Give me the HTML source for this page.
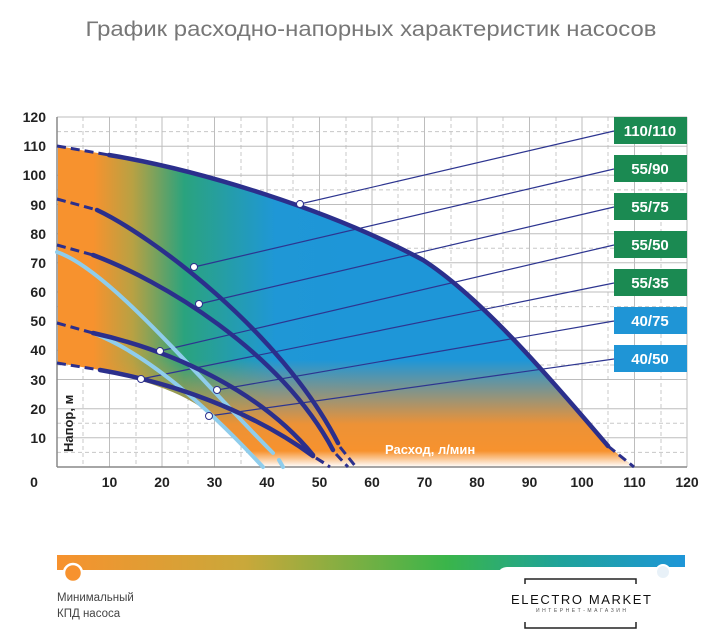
<!DOCTYPE html>
<html><head><meta charset="utf-8"><style>
html,body{margin:0;padding:0;background:#fff;}
svg{display:block;font-family:"Liberation Sans","DejaVu Sans",sans-serif;}
</style></head><body>
<svg width="720" height="640" viewBox="0 0 720 640" xmlns="http://www.w3.org/2000/svg">
<defs>
<linearGradient id="hg" x1="57" y1="0" x2="360" y2="0" gradientUnits="userSpaceOnUse">
<stop offset="0" stop-color="#f7922e"/><stop offset="0.12" stop-color="#f7922e"/>
<stop offset="0.25" stop-color="#b8a143"/><stop offset="0.42" stop-color="#2aa37e"/>
<stop offset="0.72" stop-color="#1f97d6"/><stop offset="1" stop-color="#1e96d8"/>
</linearGradient>
<linearGradient id="vg" x1="0" y1="360" x2="0" y2="467" gradientUnits="userSpaceOnUse">
<stop offset="0" stop-color="#f7922e" stop-opacity="0"/>
<stop offset="0.6" stop-color="#f7922e" stop-opacity="0.95"/>
<stop offset="0.85" stop-color="#f7922e" stop-opacity="1"/>
<stop offset="1" stop-color="#ffffff" stop-opacity="1"/>
</linearGradient>
<linearGradient id="bar" x1="57" y1="0" x2="685" y2="0" gradientUnits="userSpaceOnUse">
<stop offset="0" stop-color="#f7922e"/><stop offset="0.3" stop-color="#c9a83a"/>
<stop offset="0.62" stop-color="#3ab54a"/><stop offset="0.8" stop-color="#1fa39a"/>
<stop offset="1" stop-color="#1e96d8"/>
</linearGradient>
</defs>

<text x="371" y="36" font-size="21" fill="#777" text-anchor="middle" textLength="571" lengthAdjust="spacingAndGlyphs">График расходно-напорных характеристик насосов</text>

<g stroke="#c8c8c8" stroke-width="1" stroke-dasharray="4,3">
<line x1="57" y1="131.6" x2="687" y2="131.6"/><line x1="57" y1="189.9" x2="687" y2="189.9"/>
<line x1="57" y1="248.3" x2="687" y2="248.3"/><line x1="57" y1="306.6" x2="687" y2="306.6"/>
<line x1="57" y1="365" x2="687" y2="365"/><line x1="57" y1="423.3" x2="687" y2="423.3"/>
<line x1="57" y1="452.4" x2="687" y2="452.4"/>
<line x1="83" y1="117" x2="83" y2="467"/><line x1="136" y1="117" x2="136" y2="467"/>
<line x1="188" y1="117" x2="188" y2="467"/><line x1="241" y1="117" x2="241" y2="467"/>
<line x1="293" y1="117" x2="293" y2="467"/><line x1="346" y1="117" x2="346" y2="467"/>
<line x1="398" y1="117" x2="398" y2="467"/><line x1="451" y1="117" x2="451" y2="467"/>
<line x1="503" y1="117" x2="503" y2="467"/><line x1="556" y1="117" x2="556" y2="467"/>
<line x1="608" y1="117" x2="608" y2="467"/><line x1="661" y1="117" x2="661" y2="467"/>
</g>
<g stroke="#bdbdbd" stroke-width="1">
<line x1="57" y1="117" x2="687" y2="117"/><line x1="57" y1="146.2" x2="687" y2="146.2"/>
<line x1="57" y1="175.3" x2="687" y2="175.3"/><line x1="57" y1="204.5" x2="687" y2="204.5"/>
<line x1="57" y1="233.7" x2="687" y2="233.7"/><line x1="57" y1="262.8" x2="687" y2="262.8"/>
<line x1="57" y1="292" x2="687" y2="292"/><line x1="57" y1="321.2" x2="687" y2="321.2"/>
<line x1="57" y1="350.3" x2="687" y2="350.3"/><line x1="57" y1="379.5" x2="687" y2="379.5"/>
<line x1="57" y1="408.7" x2="687" y2="408.7"/><line x1="57" y1="437.8" x2="687" y2="437.8"/>
<line x1="109.5" y1="117" x2="109.5" y2="467"/><line x1="162" y1="117" x2="162" y2="467"/>
<line x1="214.5" y1="117" x2="214.5" y2="467"/><line x1="267" y1="117" x2="267" y2="467"/>
<line x1="319.5" y1="117" x2="319.5" y2="467"/><line x1="372" y1="117" x2="372" y2="467"/>
<line x1="424.5" y1="117" x2="424.5" y2="467"/><line x1="477" y1="117" x2="477" y2="467"/>
<line x1="529.5" y1="117" x2="529.5" y2="467"/><line x1="582" y1="117" x2="582" y2="467"/>
<line x1="634.5" y1="117" x2="634.5" y2="467"/><line x1="687" y1="117" x2="687" y2="467"/>
</g>

<path d="M58,146 L109,155 C200,170 330,210 423,260 C485,300 560,390 608,446 L634,467 L263,467 C245,450 225,430 205,410 C180,392 150,382 100,370 L58,363 Z" fill="url(#hg)"/>
<path d="M58,146 L109,155 C200,170 330,210 423,260 C485,300 560,390 608,446 L634,467 L263,467 C245,450 225,430 205,410 C180,392 150,382 100,370 L58,363 Z" fill="url(#vg)"/>

<g stroke="#888" stroke-width="1.5"><line x1="57" y1="117" x2="57" y2="467"/><line x1="57" y1="467" x2="687" y2="467"/></g>

<g stroke="#2d3590" stroke-width="1.2" fill="none">
<line x1="300" y1="204" x2="614" y2="131"/>
<line x1="194" y1="267" x2="614" y2="169"/>
<line x1="199" y1="304" x2="614" y2="207"/>
<line x1="160" y1="351" x2="614" y2="245"/>
<line x1="141" y1="379" x2="614" y2="283"/>
<line x1="217" y1="390" x2="614" y2="321"/>
<line x1="209" y1="416" x2="614" y2="359"/>
</g>

<g stroke="#8fcdec" stroke-width="4" fill="none" stroke-linecap="round">
<path d="M57,252 C110,270 200,380 273,453"/>
<line x1="279" y1="460" x2="283" y2="467"/>
<path d="M93,333 C150,355 210,410 263,467"/>
</g>

<g stroke="#2b2f8c" stroke-width="4.5" fill="none" stroke-linecap="round">
<path d="M109,155 C200,170 330,210 423,260 C485,300 560,390 608,446"/>
<path d="M97,210 C150,235 280,330 338,443"/>
<path d="M93,255 C160,280 280,350 333,450"/>
<path d="M93,333 C170,350 260,390 313,455"/>
<path d="M100,370 C170,382 250,410 313,456"/>
</g>
<g stroke="#2b2f8c" stroke-width="3" fill="none" stroke-dasharray="9,5">
<line x1="57" y1="146" x2="109" y2="155"/>
<line x1="608" y1="446" x2="634" y2="467"/>
<line x1="57" y1="199" x2="97" y2="210"/>
<line x1="340" y1="447" x2="356" y2="467"/>
<line x1="57" y1="245" x2="93" y2="255"/>
<line x1="336" y1="454" x2="348" y2="467"/>
<line x1="57" y1="323" x2="93" y2="333"/>
<line x1="316" y1="458" x2="330" y2="467"/>
<line x1="57" y1="363" x2="100" y2="370"/>
<line x1="316" y1="458" x2="326" y2="464"/>
</g>

<g fill="#fff" stroke="#2b2f8c" stroke-width="1">
<circle cx="300" cy="204" r="3.5"/><circle cx="194" cy="267" r="3.5"/>
<circle cx="199" cy="304" r="3.5"/><circle cx="160" cy="351" r="3.5"/>
<circle cx="141" cy="379" r="3.5"/><circle cx="217" cy="390" r="3.5"/>
<circle cx="209" cy="416" r="3.5"/>
</g>

<g font-weight="bold" font-size="15" fill="#fff" text-anchor="middle">
<rect x="614" y="117" width="73" height="27" fill="#1b8a52"/><text x="650" y="136">110/110</text>
<rect x="614" y="155" width="73" height="27" fill="#1b8a52"/><text x="650" y="174">55/90</text>
<rect x="614" y="193" width="73" height="27" fill="#1b8a52"/><text x="650" y="212">55/75</text>
<rect x="614" y="231" width="73" height="27" fill="#1b8a52"/><text x="650" y="250">55/50</text>
<rect x="614" y="269" width="73" height="27" fill="#1b8a52"/><text x="650" y="288">55/35</text>
<rect x="614" y="307" width="73" height="27" fill="#1f95d6"/><text x="650" y="326">40/75</text>
<rect x="614" y="345" width="73" height="27" fill="#1f95d6"/><text x="650" y="364">40/50</text>
</g>

<g font-size="14" font-weight="bold" fill="#222" text-anchor="end">
<text x="46" y="122">120</text><text x="46" y="151">110</text><text x="46" y="180">100</text>
<text x="46" y="210">90</text><text x="46" y="239">80</text><text x="46" y="268">70</text>
<text x="46" y="297">60</text><text x="46" y="326">50</text><text x="46" y="355">40</text>
<text x="46" y="385">30</text><text x="46" y="414">20</text><text x="46" y="443">10</text>
</g>
<g font-size="14" font-weight="bold" fill="#222" text-anchor="middle">
<text x="34" y="487">0</text><text x="109.5" y="487">10</text><text x="162" y="487">20</text>
<text x="214.5" y="487">30</text><text x="267" y="487">40</text><text x="319.5" y="487">50</text>
<text x="372" y="487">60</text><text x="424.5" y="487">70</text><text x="477" y="487">80</text>
<text x="529.5" y="487">90</text><text x="582" y="487">100</text><text x="634.5" y="487">110</text>
<text x="687" y="487">120</text>
</g>
<text transform="translate(73,452) rotate(-90)" font-size="13" font-weight="bold" fill="#222">Напор, м</text>
<text x="385" y="454" font-size="13" font-weight="bold" fill="#fff">Расход, л/мин</text>

<rect x="57" y="555" width="628" height="15" fill="url(#bar)"/>
<rect x="497" y="567" width="200" height="73" rx="10" fill="#fff"/>
<circle cx="663" cy="572" r="7" fill="#e8f1f8" stroke="#fff" stroke-width="2"/>
<circle cx="73" cy="573" r="9" fill="#f7922e" stroke="#fff" stroke-width="2.5"/>
<text x="57" y="601" font-size="11.5" fill="#444">Минимальный</text>
<text x="57" y="617" font-size="11.5" fill="#444">КПД насоса</text>
<path d="M525,584 V579 H636 V584 M525,622 V628 H636 V622" stroke="#222" stroke-width="1.5" fill="none"/>
<text x="581" y="604" font-size="13" fill="#111" text-anchor="middle" textLength="140" lengthAdjust="spacing">ELECTRO MARKET</text>
<text x="581" y="612" font-size="5" fill="#555" text-anchor="middle" textLength="90" lengthAdjust="spacing">ИНТЕРНЕТ-МАГАЗИН</text>
</svg>
</body></html>
